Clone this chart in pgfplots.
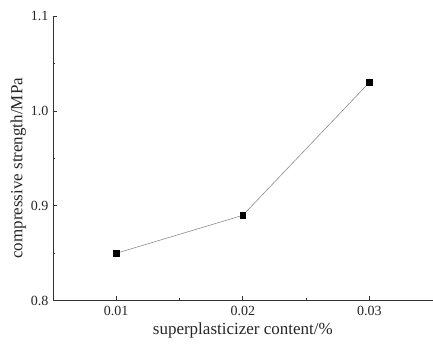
\documentclass[border=0pt]{standalone}
\usepackage{pgfplots}
\pgfplotsset{compat=1.18}
\usepackage{fontspec}
\setmainfont{Liberation Serif}
\begin{document}
\begin{tikzpicture}
\begin{axis}[
  scale only axis,
  width=380pt, height=285pt,
  xmin=0.005, xmax=0.035,
  ymin=0.8, ymax=1.1,
  axis lines*=left,
  axis line style={-, line width=0.7pt, black!80},
  xtick={0.01,0.02,0.03},
  ytick={0.8,0.9,1.0,1.1},
  minor tick num=1,
  tick align=inside,
  major tick length=4.5pt,
  minor tick length=2.5pt,
  tick style={black!80, line width=0.7pt},
  xticklabel style={yshift=-2pt, /pgf/number format/.cd, fixed, fixed zerofill, precision=2},
  yticklabel style={xshift=-1pt, /pgf/number format/.cd, fixed, fixed zerofill, precision=1},
  /pgf/number format/assume math mode=true,
  ticklabel style={font=\fontsize{14}{15}\selectfont, text=black!85},
  xlabel={superplasticizer content/\%},
  ylabel={compressive strength/MPa},
  label style={font=\fontsize{17}{19}\selectfont, text=black!85},
  xlabel style={yshift=0pt},
  ylabel style={yshift=-2pt, xshift=-10pt},
  scaled ticks=false,
  clip=false,
]
\addplot[color=black!45, line width=0.6pt, mark=square*, mark size=2.8pt, mark options={fill=black, draw=black}]
  coordinates {(0.01,0.85) (0.02,0.89) (0.03,1.03)};
\end{axis}
\path[use as bounding box] ([xshift=-53pt,yshift=-44pt]current axis.south west) rectangle ([yshift=16pt]current axis.north east);
\end{tikzpicture}
\end{document}
